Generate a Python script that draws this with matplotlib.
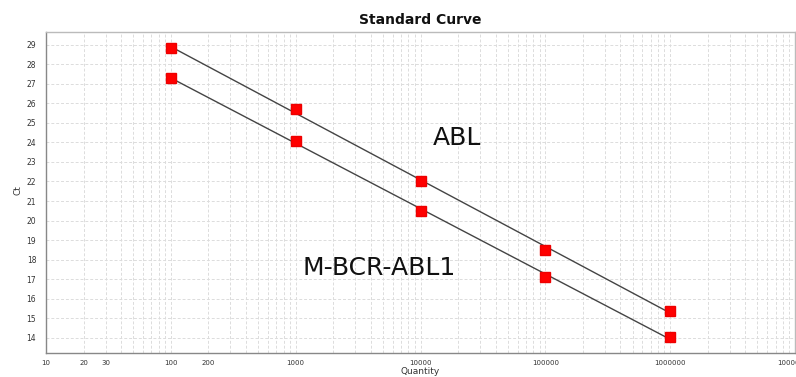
import numpy as np
import matplotlib
matplotlib.use("Agg")
import matplotlib.pyplot as plt
from matplotlib.ticker import FixedLocator, FixedFormatter, LogLocator, NullFormatter

quantity = [100, 1000, 10000, 100000, 1000000]
ct_abl = [28.8, 25.7, 22.03, 18.5, 15.38]
ct_mbcr = [27.29, 24.07, 20.5, 17.13, 14.06]
x_tick_values = [10, 20, 30, 100, 200, 1000, 10000, 100000, 1000000, 10000000]
x_tick_labels = ["10", "20", "30", "100", "200", "1000", "10000", "100000", "1000000", "10000000"]
y_ticks = list(range(14, 30))

fig = plt.figure(figsize=(7.96, 3.77), dpi=100)
ax = fig.add_axes([46/796, 1-353/377, (795-46)/796, (353-32)/377])
ax.set_xscale("log")
ax.set_xlim(10, 1e7)
ax.set_ylim(13.23, 29.64)

for ys in (ct_abl, ct_mbcr):
    lx = np.log10(quantity)
    k, b = np.polyfit(lx, ys, 1)
    xs = np.array([quantity[0], quantity[-1]])
    ax.plot(xs, k*np.log10(xs)+b, color="#444444", lw=1.0, zorder=3)
    ax.plot(quantity, ys, ls="none", marker="s", ms=6.5, color="#ff0000",
            mec="#ee0000", zorder=4)

ax.xaxis.set_major_locator(FixedLocator(x_tick_values))
ax.xaxis.set_major_formatter(FixedFormatter(x_tick_labels))
ax.xaxis.set_minor_locator(LogLocator(base=10, subs=np.arange(2, 10), numticks=20))
ax.xaxis.set_minor_formatter(NullFormatter())
ax.set_yticks(y_ticks)

ax.grid(True, which="both", axis="x", color="#dcdcdc", ls=(0, (3, 2)), lw=0.7)
ax.grid(True, which="major", axis="y", color="#dcdcdc", ls=(0, (3, 2)), lw=0.7)
ax.set_axisbelow(True)

ax.tick_params(axis="x", which="both", length=0, pad=5, labelsize=5, labelcolor="#333333")
ax.tick_params(axis="y", which="both", length=0, pad=7, labelsize=5.5, labelcolor="#333333")

for s in ("left", "bottom"):
    ax.spines[s].set_color("#888888")
    ax.spines[s].set_linewidth(1.0)
for s in ("top", "right"):
    ax.spines[s].set_color("#bbbbbb")
    ax.spines[s].set_linewidth(1.0)

fig.text(420/796, 1-20/377, "Standard Curve", ha="center", va="center",
         fontsize=10, fontweight="bold", color="#111111")
fig.text(18/796, 1-190/377, "Ct", ha="center", va="center", rotation=90,
         fontsize=6.5, color="#333333")
fig.text(420/796, 1-372/377, "Quantity", ha="center", va="center",
         fontsize=6.5, color="#333333")

ax.text(10**((433-46)/124.8 + 1), 22.0 + (181-138)/19.57, "ABL", ha="left", va="center",
        fontsize=18, family="DejaVu Sans", color="#111111")
ax.text(10**((302-46)/124.8 + 1), 29 - (268-44.5)/19.57, "M-BCR-ABL1", ha="left", va="center",
        fontsize=18, family="DejaVu Sans", color="#111111")

fig.savefig("out.png", dpi=100)
